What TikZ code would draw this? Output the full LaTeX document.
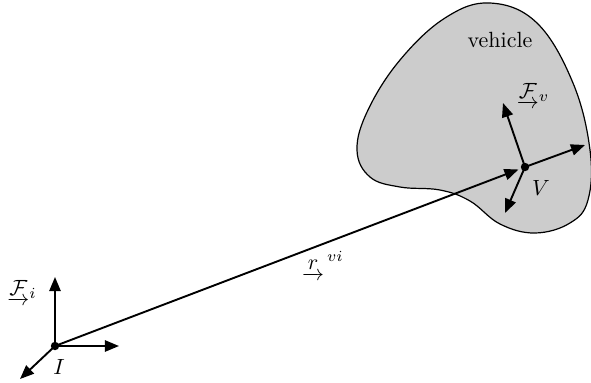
\documentclass[tikz,border=0pt]{standalone}
\usepackage{amsmath}
\usetikzlibrary{arrows.meta}
\begin{document}
\begin{tikzpicture}[x=0.5pt,y=-0.5pt,
  vec/.style={line width=0.95pt,-{Triangle[length=7pt,width=5.6pt]}},
  dotnode/.style={circle,fill=black,inner sep=0pt,minimum size=4.2pt},
  lbl/.style={inner sep=0pt,scale=1.1}]
\useasboundingbox (0,0) rectangle (591,382);
% vehicle blob
\draw[fill=gray!40,line width=0.6pt] plot[smooth cycle,tension=0.65] coordinates {
 (490,3) (537,23) (573,83) (590,150) (588,200) (570,223) (535,233)
 (500,224) (470,201) (440,190) (400,187) (370,177) (357,150)
 (368,110) (400,60) (445,18)};
\node[lbl] (veh) at (500,40) {vehicle};
% points
\coordinate (I) at (55,346);
\coordinate (V) at (525,167);
% frame i
\coordinate (ix) at (119,346);
\coordinate (iy) at (55,277);
\coordinate (iz) at (20,379);
\draw[vec] (I) -- (ix);
\draw[vec] (I) -- (iy);
\draw[vec] (I) -- (iz);
% frame v
\coordinate (vx) at (585,145);
\coordinate (vy) at (503,103);
\coordinate (vz) at (505,213);
\draw[vec] (V) -- (vx);
\draw[vec] (V) -- (vy);
\draw[vec] (V) -- (vz);
% r
\draw[vec,shorten >=3.5pt] (I) -- (V);
\node[dotnode] (Id) at (I) {};
\node[dotnode] (Vd) at (V) {};
% labels
\node[lbl] (Fi) at (22,293) {$\underrightarrow{\mathcal{F}}_{i}$};
\node[lbl] (Il) at (59,367) {$I$};
\node[lbl] (Fv) at (533,96) {$\underrightarrow{\mathcal{F}}_{v}$};
\node[lbl] (Vl) at (541,188) {$V$};
\node[lbl] (rl) at (323,266) {$\underrightarrow{r}^{\,vi}$};
\end{tikzpicture}
\end{document}
